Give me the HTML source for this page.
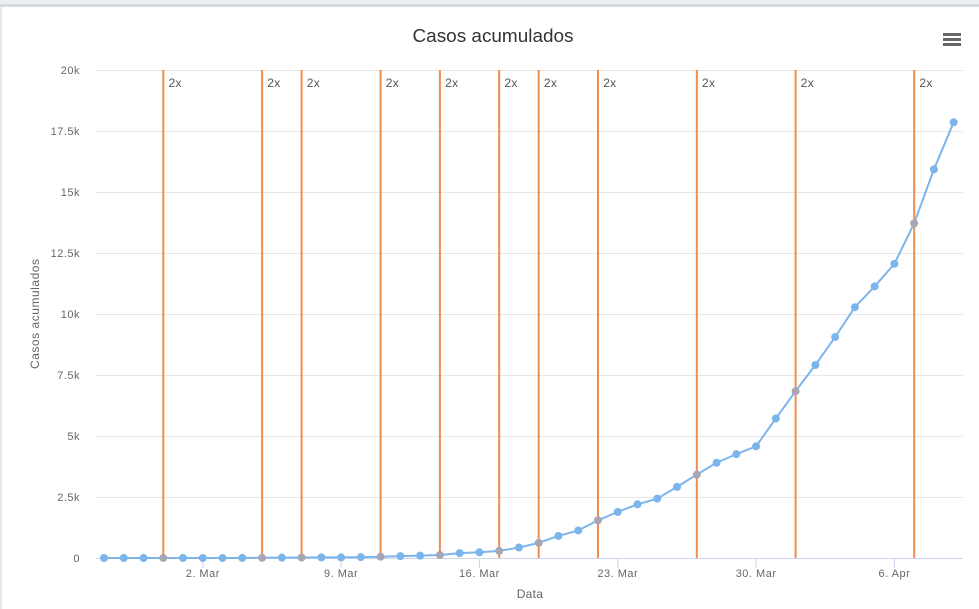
<!DOCTYPE html>
<html>
<head>
<meta charset="utf-8">
<style>
html,body{margin:0;padding:0;background:#fff;width:979px;height:609px;overflow:hidden;}
svg{display:block;font-family:"Liberation Sans",sans-serif;}
</style>
</head>
<body>
<svg width="979" height="609" viewBox="0 0 979 609" xmlns="http://www.w3.org/2000/svg">
  <rect x="0" y="0" width="979" height="609" fill="#ffffff"/>
  <!-- frame -->
  <rect x="0" y="0" width="979" height="4" fill="#eaedf2"/>
  <rect x="0" y="4" width="979" height="3" fill="#d5dae0"/>
  <rect x="0" y="7" width="2" height="602" fill="#e6e9ee"/>

  <!-- title -->
  <text x="493" y="42" text-anchor="middle" font-size="18.5" fill="#333333" textLength="161" lengthAdjust="spacingAndGlyphs">Casos acumulados</text>

  <!-- menu -->
  <rect x="943" y="33" width="18" height="3" fill="#666666"/>
  <rect x="943" y="38" width="18" height="3" fill="#666666"/>
  <rect x="943" y="43" width="18" height="3" fill="#666666"/>

  <!-- gridlines -->
  <g stroke="#e6e6e6" stroke-width="1">
    <line x1="96" y1="70.5" x2="963" y2="70.5"/>
    <line x1="96" y1="131.5" x2="963" y2="131.5"/>
    <line x1="96" y1="192.5" x2="963" y2="192.5"/>
    <line x1="96" y1="253.5" x2="963" y2="253.5"/>
    <line x1="96" y1="314.5" x2="963" y2="314.5"/>
    <line x1="96" y1="375.5" x2="963" y2="375.5"/>
    <line x1="96" y1="436.5" x2="963" y2="436.5"/>
    <line x1="96" y1="497.5" x2="963" y2="497.5"/>
  </g>

  <!-- y labels -->
  <g font-size="11" fill="#666666" text-anchor="end" letter-spacing="0.5">
    <text x="80" y="74">20k</text>
    <text x="80" y="135">17.5k</text>
    <text x="80" y="196">15k</text>
    <text x="80" y="257">12.5k</text>
    <text x="80" y="318">10k</text>
    <text x="80" y="379">7.5k</text>
    <text x="80" y="440">5k</text>
    <text x="80" y="501">2.5k</text>
    <text x="80" y="562">0</text>
  </g>

  <!-- y axis title -->
  <text transform="translate(39,314) rotate(-90)" text-anchor="middle" font-size="12" fill="#666666" textLength="110" lengthAdjust="spacing">Casos acumulados</text>

  <!-- x axis -->
  <line x1="96" y1="558.5" x2="963" y2="558.5" stroke="#ccd6eb" stroke-width="1"/>
  <g stroke="#ccd6eb" stroke-width="1">
    <line x1="202.8" y1="558" x2="202.8" y2="568"/>
    <line x1="341.1" y1="558" x2="341.1" y2="568"/>
    <line x1="479.4" y1="558" x2="479.4" y2="568"/>
    <line x1="617.8" y1="558" x2="617.8" y2="568"/>
    <line x1="756.1" y1="558" x2="756.1" y2="568"/>
    <line x1="894.4" y1="558" x2="894.4" y2="568"/>
  </g>
  <g font-size="11" fill="#666666" text-anchor="middle" letter-spacing="0.5">
    <text x="202.8" y="577">2. Mar</text>
    <text x="341.1" y="577">9. Mar</text>
    <text x="479.4" y="577">16. Mar</text>
    <text x="617.8" y="577">23. Mar</text>
    <text x="756.1" y="577">30. Mar</text>
    <text x="894.4" y="577">6. Apr</text>
  </g>
  <text x="530" y="598" text-anchor="middle" font-size="12" fill="#666666" letter-spacing="0.3">Data</text>

  <!-- plot lines -->
  <g stroke="#ee8c50" stroke-width="2">
    <line x1="163.3" y1="70" x2="163.3" y2="558"/>
    <line x1="262.1" y1="70" x2="262.1" y2="558"/>
    <line x1="301.6" y1="70" x2="301.6" y2="558"/>
    <line x1="380.6" y1="70" x2="380.6" y2="558"/>
    <line x1="439.9" y1="70" x2="439.9" y2="558"/>
    <line x1="499.2" y1="70" x2="499.2" y2="558"/>
    <line x1="538.7" y1="70" x2="538.7" y2="558"/>
    <line x1="598.0" y1="70" x2="598.0" y2="558"/>
    <line x1="696.8" y1="70" x2="696.8" y2="558"/>
    <line x1="795.6" y1="70" x2="795.6" y2="558"/>
    <line x1="914.2" y1="70" x2="914.2" y2="558"/>
  </g>
  <g font-size="12" fill="#555555" letter-spacing="0.3">
    <text x="168.5" y="87">2x</text>
    <text x="267.3" y="87">2x</text>
    <text x="306.8" y="87">2x</text>
    <text x="385.8" y="87">2x</text>
    <text x="445.1" y="87">2x</text>
    <text x="504.4" y="87">2x</text>
    <text x="543.9" y="87">2x</text>
    <text x="603.2" y="87">2x</text>
    <text x="702.0" y="87">2x</text>
    <text x="800.8" y="87">2x</text>
    <text x="919.4" y="87">2x</text>
  </g>

  <!-- series -->
  <polyline fill="none" stroke="#7cb5ec" stroke-width="2" stroke-linejoin="round" points="
104.0,558.0 123.76,558.0 143.52,558.0 163.28,557.95 183.04,557.95 202.8,557.95 222.56,557.95 242.32,557.93
262.08,557.8 281.84,557.68 301.6,557.54 321.36,557.39 341.12,557.39 360.88,557.17 380.64,556.73 400.4,556.12
420.16,555.61 439.92,555.05 459.68,553.12 479.44,552.29 499.2,550.9 518.96,547.56 538.72,542.85 558.48,535.94
578.24,530.48 598.0,520.28 617.76,511.86 637.52,504.3 657.28,498.63 677.04,486.87 696.8,474.63 716.56,462.74
736.32,454.15 756.08,446.27 775.84,418.5 795.6,391.2 815.36,365.0 835.12,337.03 854.88,307.22 874.64,286.43
894.4,263.83 914.16,223.3 933.92,169.38 953.68,122.29"/>

  <g fill="#7cb5ec">
    <circle cx="104.0" cy="558.0" r="4"/>
    <circle cx="123.76" cy="558.0" r="4"/>
    <circle cx="143.52" cy="558.0" r="4"/>
    <circle cx="183.04" cy="557.95" r="4"/>
    <circle cx="202.8" cy="557.95" r="4"/>
    <circle cx="222.56" cy="557.95" r="4"/>
    <circle cx="242.32" cy="557.93" r="4"/>
    <circle cx="281.84" cy="557.68" r="4"/>
    <circle cx="321.36" cy="557.39" r="4"/>
    <circle cx="341.12" cy="557.39" r="4"/>
    <circle cx="360.88" cy="557.17" r="4"/>
    <circle cx="400.4" cy="556.12" r="4"/>
    <circle cx="420.16" cy="555.61" r="4"/>
    <circle cx="459.68" cy="553.12" r="4"/>
    <circle cx="479.44" cy="552.29" r="4"/>
    <circle cx="518.96" cy="547.56" r="4"/>
    <circle cx="558.48" cy="535.94" r="4"/>
    <circle cx="578.24" cy="530.48" r="4"/>
    <circle cx="617.76" cy="511.86" r="4"/>
    <circle cx="637.52" cy="504.3" r="4"/>
    <circle cx="657.28" cy="498.63" r="4"/>
    <circle cx="677.04" cy="486.87" r="4"/>
    <circle cx="716.56" cy="462.74" r="4"/>
    <circle cx="736.32" cy="454.15" r="4"/>
    <circle cx="756.08" cy="446.27" r="4"/>
    <circle cx="775.84" cy="418.5" r="4"/>
    <circle cx="815.36" cy="365.0" r="4"/>
    <circle cx="835.12" cy="337.03" r="4"/>
    <circle cx="854.88" cy="307.22" r="4"/>
    <circle cx="874.64" cy="286.43" r="4"/>
    <circle cx="894.4" cy="263.83" r="4"/>
    <circle cx="933.92" cy="169.38" r="4"/>
    <circle cx="953.68" cy="122.29" r="4"/>
  </g>
  <g fill="#a9a6b4">
    <circle cx="163.28" cy="557.95" r="4"/>
    <circle cx="262.08" cy="557.8" r="4"/>
    <circle cx="301.6" cy="557.54" r="4"/>
    <circle cx="380.64" cy="556.73" r="4"/>
    <circle cx="439.92" cy="555.05" r="4"/>
    <circle cx="499.2" cy="550.9" r="4"/>
    <circle cx="538.72" cy="542.85" r="4"/>
    <circle cx="598.0" cy="520.28" r="4"/>
    <circle cx="696.8" cy="474.63" r="4"/>
    <circle cx="795.6" cy="391.2" r="4"/>
    <circle cx="914.16" cy="223.3" r="4"/>
  </g>
</svg>
</body>
</html>
